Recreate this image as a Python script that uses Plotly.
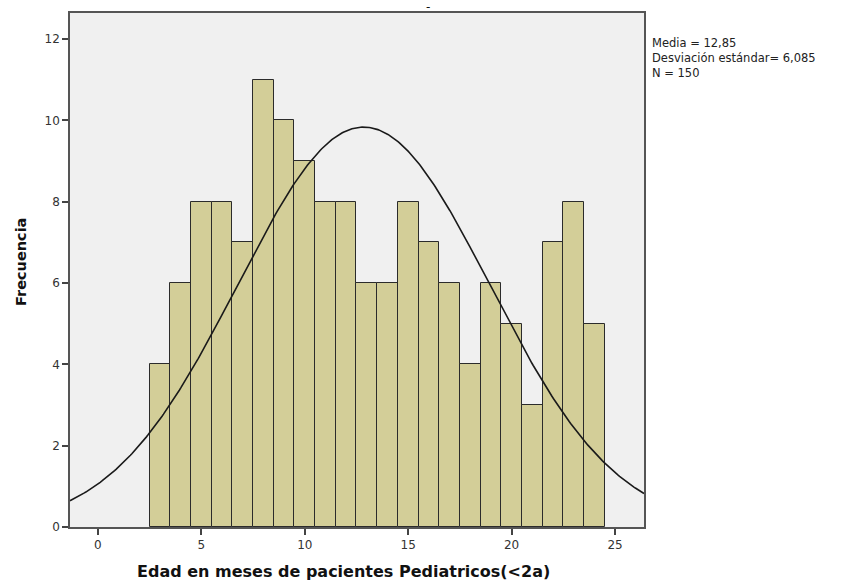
import numpy as np
import plotly.graph_objects as go

# Age in months (bin centres) and patient counts per bin
edad_meses = [3, 4, 5, 6, 7, 8, 9, 10, 11, 12, 13, 14, 15, 16, 17, 18, 19, 20, 21, 22, 23, 24]
frecuencia = [4, 6, 8, 8, 7, 11, 10, 9, 8, 8, 6, 6, 8, 7, 6, 4, 6, 5, 3, 7, 8, 5]

media = 12.85
desviacion = 6.085
n_total = 150
ancho_bin = 1.0

x_ticks = [0, 5, 10, 15, 20, 25]
y_ticks = [0, 2, 4, 6, 8, 10, 12]

x_rango = [-1.35, 26.4]
y_rango = [0, 12.64]

estadisticos = ["Media = 12,85", "Desviación estándar= 6,085", "N = 150"]

# Normal curve scaled to the histogram counts
xc = np.linspace(x_rango[0], x_rango[1], 400)
yc = n_total * ancho_bin / (desviacion * np.sqrt(2 * np.pi)) * np.exp(-0.5 * ((xc - media) / desviacion) ** 2)

FUENTE = "DejaVu Sans, Verdana, sans-serif"

fig = go.Figure()
fig.add_trace(go.Bar(
    x=edad_meses, y=frecuencia, width=ancho_bin,
    marker=dict(color="#D3CE98", line=dict(color="#2b2b2b", width=1)),
    hoverinfo="x+y",
))
fig.add_trace(go.Scatter(
    x=xc, y=yc, mode="lines",
    line=dict(color="#1a1a1a", width=1.6),
    hoverinfo="skip",
))

anotaciones = [
    dict(text="<b>Edad en meses de pacientes Pediatricos(<2a)</b>",
         xref="paper", yref="paper", x=0.5, y=0, xanchor="center", yanchor="middle",
         xshift=-14, yshift=-44, showarrow=False,
         font=dict(family=FUENTE, size=16, color="#111111")),
    dict(text="<b>Frecuencia</b>", textangle=-90,
         xref="paper", yref="paper", x=0, y=0.5156, xanchor="center", yanchor="middle",
         xshift=-49, showarrow=False, font=dict(family=FUENTE, size=14.5, color="#111111")),
    dict(text="-", xref="paper", yref="paper", x=0.624, y=1.0, xanchor="center", yanchor="bottom",
         showarrow=False, font=dict(size=12, color="#111111"), yshift=-3),
    dict(text="<br>".join(estadisticos), xref="paper", yref="paper", x=1.0, y=1.0,
         xanchor="left", yanchor="middle", xshift=6, yshift=-45,
         showarrow=False, align="left",
         font=dict(family=FUENTE, size=11.5, color="#222222")),
]

fig.update_layout(
    width=844, height=584,
    margin=dict(l=70, r=200, t=13, b=57),
    paper_bgcolor="white",
    plot_bgcolor="#F0F0F0",
    showlegend=False,
    bargap=0,
    font=dict(family=FUENTE, color="#333333", size=12),
    xaxis=dict(
        range=x_rango, tickvals=x_ticks, ticktext=[str(v) for v in x_ticks],
        showgrid=False, zeroline=False,
        showline=True, linecolor="#555555", linewidth=1.5, mirror=True,
        ticks="outside", ticklen=6, tickcolor="#444444", tickwidth=1.5,
    ),
    yaxis=dict(
        range=y_rango, tickvals=y_ticks, ticktext=[str(v) for v in y_ticks],
        showgrid=False, zeroline=False,
        showline=True, linecolor="#555555", linewidth=1.5, mirror=True,
        ticks="outside", ticklen=6, tickcolor="#444444", tickwidth=1.5,
    ),
    annotations=anotaciones,
)

fig.write_html("out.html")
